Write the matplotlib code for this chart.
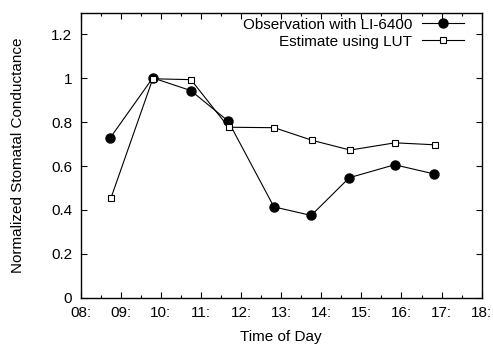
import matplotlib
matplotlib.use("Agg")
import matplotlib.pyplot as plt
import numpy as np

plt.rcParams['font.family'] = ['Liberation Sans', 'DejaVu Sans']

# hours of day (decimal)
obs_time = [8.74, 9.80, 10.75, 11.68, 12.82, 13.75, 14.70, 15.83, 16.82]
obs_val = [0.729, 1.002, 0.944, 0.805, 0.414, 0.375, 0.547, 0.606, 0.564]

lut_time = [8.76, 9.80, 10.75, 11.69, 12.83, 13.78, 14.72, 15.84, 16.84]
lut_val = [0.456, 0.998, 0.994, 0.777, 0.775, 0.717, 0.673, 0.706, 0.697]

hours = list(range(8, 19))
hour_labels = ["%02d:" % h for h in hours]
yticks = [0, 0.2, 0.4, 0.6, 0.8, 1.0, 1.2]
ytick_labels = ["0", "0.2", "0.4", "0.6", "0.8", "1", "1.2"]

fig = plt.figure(figsize=(4.93, 3.44), dpi=100)
ax = fig.add_axes([0.1635, 0.1346, 0.8135, 0.829])

ax.plot(obs_time, obs_val, color="black", lw=0.8, marker="o", markersize=6.5,
        markerfacecolor="black", label="Observation with LI-6400")
ax.plot(lut_time, lut_val, color="black", lw=0.8, marker="s", markersize=4.5,
        markerfacecolor="white", markeredgewidth=0.8, label="Estimate using LUT")

ax.set_xlim(8, 18)
ax.set_ylim(0, 1.3)
ax.set_xticks(hours)
ax.set_xticklabels(hour_labels)
ax.set_xticks(np.arange(8.5, 18, 1.0), minor=True)
ax.set_yticks(yticks)
ax.set_yticklabels(ytick_labels)

ax.tick_params(which="both", direction="in", top=True, right=True, labelsize=11, width=0.8)
ax.tick_params(which="major", length=4, pad=6)
ax.tick_params(which="minor", length=2)
for s in ax.spines.values():
    s.set_linewidth(1.0)

ax.set_xlabel("Time of Day", fontsize=11, va="center")
ax.set_ylabel("Normalized Stomatal Conductance", fontsize=11, va="center")
ax.xaxis.set_label_coords(0.5, -0.138)
ax.yaxis.set_label_coords(-0.155, 0.5)

ax.legend(loc="upper right", frameon=False, markerfirst=False, fontsize=11,
          handlelength=2.72, handletextpad=0.65, labelspacing=0.19,
          borderaxespad=0.0, bbox_to_anchor=(0.97, 1.003))

fig.savefig("out.png", dpi=100)
